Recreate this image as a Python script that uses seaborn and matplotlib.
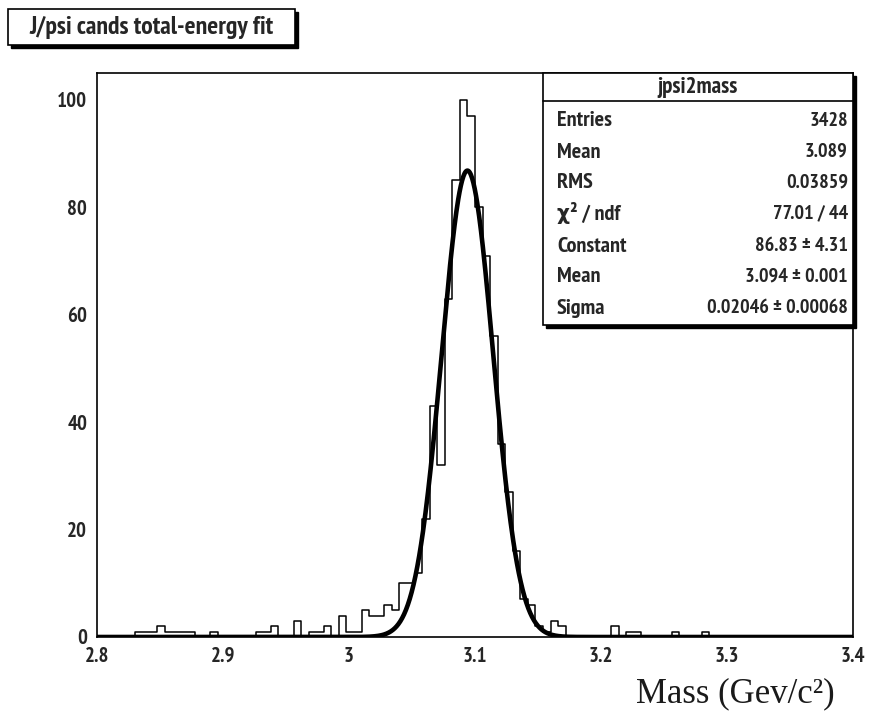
import os
import numpy as np
import pandas as pd
import matplotlib
matplotlib.use("Agg")
import matplotlib.pyplot as plt
from matplotlib import font_manager as fm
from matplotlib.patches import Rectangle
from matplotlib.ticker import MultipleLocator, FuncFormatter
import seaborn as sns

# ---- histogram contents: 100 bins of width 0.006 GeV from 2.8 to 3.4 ----
x_min, x_max, n_bins = 2.8, 3.4, 100
counts = [
    0, 0, 0, 0, 0, 1, 1, 1, 2, 1,        # 2.800 - 2.860
    1, 1, 1, 0, 0, 1, 0, 0, 0, 0,        # 2.860 - 2.920
    0, 1, 1, 2, 0, 0, 3, 0, 1, 1,        # 2.920 - 2.980
    2, 0, 4, 1, 1, 5, 4, 4, 6, 5,        # 2.980 - 3.040
    10, 10, 12, 22, 43, 32, 63, 85, 100, 97,  # 3.040 - 3.100
    80, 71, 56, 36, 27, 16, 7, 6, 2, 1,  # 3.100 - 3.160
    3, 2, 0, 0, 0, 0, 0, 0, 2, 0,        # 3.160 - 3.220
    1, 1, 0, 0, 0, 0, 1, 0, 0, 0,        # 3.220 - 3.280
    1, 0, 0, 0, 0, 0, 0, 0, 0, 0,        # 3.280 - 3.340
    0, 0, 0, 0, 0, 0, 0, 0, 0, 0,        # 3.340 - 3.400
]

# ---- gaussian fit result ----
fit_constant = 86.83
fit_mean = 3.094
fit_sigma = 0.02046

stat_labels = ["Entries", "Mean", "RMS", "\u03c7\u00b2 / ndf", "Constant", "Mean", "Sigma"]
stat_values = ["3428", "3.089", "0.03859", "77.01 / 44",
               "86.83 \u00b1 4.31", "3.094 \u00b1 0.001", "0.02046 \u00b1 0.00068"]
hist_name = "jpsi2mass"
title_text = "J/psi cands total-energy fit"
xlabel_text = "Mass (Gev/c\u00b2)"

edges = np.linspace(x_min, x_max, n_bins + 1)
centers = 0.5 * (edges[:-1] + edges[1:])
hist_df = pd.DataFrame({"mass": centers, "n": counts})

curve_x = np.linspace(x_min, x_max, 1200)
curve_df = pd.DataFrame({
    "mass": curve_x,
    "fit": fit_constant * np.exp(-0.5 * ((curve_x - fit_mean) / fit_sigma) ** 2),
})

# ---- fonts: a narrow bold sans for labels, a serif for the axis title ----
sns.set_style("white")


def _weight(entry):
    w = entry.weight
    if isinstance(w, int):
        return w
    return {"bold": 700, "semibold": 600, "demibold": 600, "heavy": 800,
            "normal": 400, "regular": 400}.get(str(w).lower(), 400)


def pick_narrow_bold():
    best, best_score = None, None
    for f in fm.fontManager.ttflist:
        if f.style != "normal":
            continue
        w = _weight(f)
        if w < 600 or w > 800:
            continue
        nm = f.name.lower()
        fn = os.path.basename(f.fname).lower()
        st = str(f.stretch).lower()
        if "narrow" in nm or "narrow" in fn:
            score = 0
        elif "semicondensed" in fn or "semi-condensed" in st:
            score = 3
        elif "extracondensed" in fn or "extra-condensed" in st or "ultra" in st:
            score = 4
        elif "condensed" in fn or "condensed" in nm or st == "condensed":
            score = 1
        else:
            continue
        if "liberation" in nm:
            score -= 0.5
        elif "dejavu" in nm:
            score += 0.2
        score += abs(w - 700) / 1000
        if best_score is None or score < best_score:
            best, best_score = f, score
    return best


narrow = pick_narrow_bold()


def label_font(size):
    if narrow is not None:
        return fm.FontProperties(family=[narrow.name, "DejaVu Sans"],
                                 weight=narrow.weight, stretch=narrow.stretch,
                                 size=size)
    return fm.FontProperties(family=["Liberation Sans", "DejaVu Sans"],
                             weight="bold", size=size)


SERIF = "Liberation Serif"
plt.rcParams["font.family"] = ["Liberation Sans", "DejaVu Sans"]

W, H = 877, 717
fig = plt.figure(figsize=(W / 100, H / 100), dpi=100)
fig.patch.set_facecolor("white")


def fx(px):
    return px / W


def fy(py):
    return 1 - py / H


ax_l, ax_r, ax_t, ax_b = 97, 853, 73, 637
ax = fig.add_axes([fx(ax_l), fy(ax_b), fx(ax_r - ax_l), (ax_b - ax_t) / H])
ax.set_facecolor("white")

sns.histplot(data=hist_df, x="mass", weights="n", bins=n_bins,
             binrange=(x_min, x_max), element="step",
             fill=False, color="black", linewidth=1.1, ax=ax)
sns.lineplot(data=curve_df, x="mass", y="fit", color="black", linewidth=3.3,
             ax=ax, zorder=5)

ax.set_xlim(x_min, x_max)
ax.set_ylim(0, 105)
ax.set_xlabel("")
ax.set_ylabel("")

for side in ["left", "right", "top", "bottom"]:
    ax.spines[side].set_visible(True)
    ax.spines[side].set_color("black")
    ax.spines[side].set_linewidth(1.2)

ax.xaxis.set_major_locator(MultipleLocator(0.1))
ax.xaxis.set_minor_locator(MultipleLocator(0.02))
ax.yaxis.set_major_locator(MultipleLocator(20))
ax.yaxis.set_minor_locator(MultipleLocator(5))
ax.xaxis.set_major_formatter(FuncFormatter(lambda v, p: f"{v:g}"))
ax.tick_params(axis="both", which="both", direction="in", color="black", width=1.1,
               top=False, right=False, pad=7)
ax.tick_params(axis="x", which="major", length=12)
ax.tick_params(axis="x", which="minor", length=6)
ax.tick_params(axis="y", which="major", length=12)
ax.tick_params(axis="y", which="minor", length=9.5)
fig.canvas.draw()
tick_fp = label_font(15)
for lab in ax.get_xticklabels() + ax.get_yticklabels():
    lab.set_fontproperties(tick_fp)

# ---- statistics box ----
sb_l, sb_r, sb_t, sb_b = 543, 853, 73, 325
shadow = 3
fig.add_artist(Rectangle((fx(sb_l + shadow), fy(sb_b + shadow)),
                         fx(sb_r - sb_l), (sb_b - sb_t) / H,
                         transform=fig.transFigure, facecolor="black",
                         edgecolor="black", zorder=10))
fig.add_artist(Rectangle((fx(sb_l), fy(sb_b)), fx(sb_r - sb_l), (sb_b - sb_t) / H,
                         transform=fig.transFigure, facecolor="white",
                         edgecolor="black", linewidth=1.2, zorder=11))
fig.add_artist(plt.Line2D([fx(sb_l), fx(sb_r)], [fy(101), fy(101)],
                          transform=fig.transFigure, color="black", linewidth=1.2,
                          zorder=12))
fig.text(fx((sb_l + sb_r) / 2), fy(88), hist_name, ha="center", va="center",
         fontproperties=label_font(16.5), zorder=13)
name_fp = label_font(16)
value_fp = label_font(14.5)
row_y = [121, 152, 183, 213, 246, 277, 308]
for lab, val, yy in zip(stat_labels, stat_values, row_y):
    fig.text(fx(557), fy(yy), lab, ha="left", va="center",
             fontproperties=name_fp, zorder=13)
    fig.text(fx(848), fy(yy), val, ha="right", va="center",
             fontproperties=value_fp, zorder=13)

# ---- title box ----
tb_l, tb_r, tb_t, tb_b = 8, 295, 9, 45
fig.add_artist(Rectangle((fx(tb_l + shadow), fy(tb_b + shadow)),
                         fx(tb_r - tb_l), (tb_b - tb_t) / H,
                         transform=fig.transFigure, facecolor="black",
                         edgecolor="black", zorder=10))
fig.add_artist(Rectangle((fx(tb_l), fy(tb_b)), fx(tb_r - tb_l), (tb_b - tb_t) / H,
                         transform=fig.transFigure, facecolor="white",
                         edgecolor="black", linewidth=1.2, zorder=11))
fig.text(fx((tb_l + tb_r) / 2), fy(27), title_text, ha="center", va="center",
         fontproperties=label_font(18.5), zorder=13)

# ---- axis title ----
fig.text(fx(835), fy(694), xlabel_text, ha="right", va="center",
         fontsize=25, fontweight="normal", family=[SERIF, "DejaVu Serif"],
         color="#1a1a1a")

fig.savefig("out.png", dpi=100, facecolor="white")
